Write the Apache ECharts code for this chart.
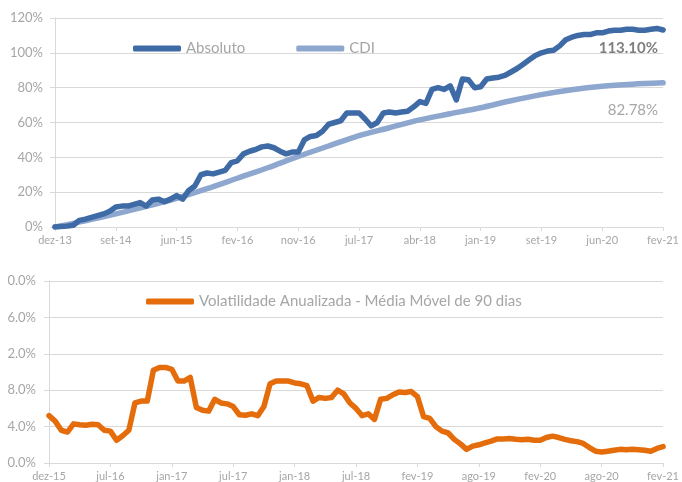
<!DOCTYPE html>
<html><head><meta charset="utf-8">
<script src="https://cdn.jsdelivr.net/npm/echarts@6/dist/echarts.min.js"></script>
<style>html,body{margin:0;padding:0;background:#fff}#c{width:682px;height:482px}</style>
</head><body><div id="c"></div>
<script>
// Top chart tick labels
var topTicks = ['dez-13','set-14','jun-15','fev-16','nov-16','jul-17','abr-18','jan-19','set-19','jun-20','fev-21'];
// Bottom chart tick labels
var botTicks = ['dez-15','jul-16','jan-17','jul-17','jan-18','jul-18','fev-19','ago-19','fev-20','ago-20','fev-21'];
// Bottom y-axis labels as shown (truncated in the original)
var botYLabels = ['0.0%','4.0%','8.0%','2.0%','6.0%','0.0%'];

// Absoluto (%), sampled every 1/10 of a tick interval
var absoluto = [0,0.3,0.5,1,3.8,4.5,5.5,6.5,7.5,9,
  11.5,12,12,13,14,12,15.5,16,14.5,16,
  18,16,21,23.5,30,31,30.5,31.5,32.5,37,
  38,42,43.5,44.5,46,46.5,45.5,43.5,42,43,
  43,50,52,52.5,55,59,60,61,65.5,65.5,
  65.5,62,58,60,65.5,66,65.5,66,66.5,69,
  72,71,79,80,79,81,73,85,84.5,80,
  80.5,85,85.5,86,87,89,91,93.5,96,98.5,
  100,101,101.5,104,107.5,109,110,110.5,110.5,111.5,
  111.5,112.5,113,113,113.5,113.5,113,113,113.5,114,113.1];
// CDI (%), sampled every 1/2 tick interval
var cdi = [0,3.5,7.5,11.8,16.5,22,28,34,40.5,46.5,52.5,57,61.5,65,68.5,72.5,76,78.8,80.8,82,82.78];
// Volatilidade anualizada (%), sampled every 1/10 tick interval
var vol = [5.2,4.6,3.6,3.4,4.3,4.2,4.15,4.25,4.2,3.6,
  3.5,2.5,3.0,3.6,6.6,6.8,6.8,10.2,10.5,10.5,
  10.3,9.0,9.0,9.4,6.1,5.8,5.7,7.0,6.6,6.5,
  6.2,5.3,5.25,5.4,5.2,6.2,8.7,9.0,9.0,9.0,
  8.8,8.7,8.5,6.8,7.2,7.1,7.2,8.0,7.6,6.6,
  6.0,5.2,5.4,4.8,7.0,7.1,7.5,7.8,7.75,7.85,
  7.3,5.1,4.9,4.0,3.5,3.3,2.6,2.1,1.5,1.85,
  2.0,2.2,2.4,2.65,2.65,2.7,2.6,2.55,2.6,2.5,
  2.5,2.8,2.95,2.8,2.6,2.45,2.35,2.15,1.7,1.3,
  1.2,1.3,1.4,1.5,1.45,1.5,1.45,1.4,1.3,1.6,1.8];

function toPairs(arr, step){ return arr.map(function(v,i){ return [i*step, v]; }); }

var gray = '#A6A6A6', grid = '#D9D9D9';
var F = 'Lato, "Open Sans", sans-serif';
var chart = echarts.init(document.getElementById('c'), null, {renderer:'canvas'});
chart.setOption({
  animation:false,
  backgroundColor:'#fff',
  textStyle:{fontFamily:F},
  grid:[
    {left:55, right:14, top:18, height:209, containLabel:false},
    {left:49, right:13, top:281, height:182, containLabel:false}
  ],
  legend:[
    {data:['Absoluto','CDI'], left:128, top:36, itemWidth:48, itemHeight:6, itemGap:51,
     icon:'roundRect', textStyle:{color:gray, fontSize:15, fontFamily:F}},
    {data:['Volatilidade Anualizada - Média Móvel de 90 dias'], left:141, top:289, itemWidth:48, itemHeight:6,
     icon:'roundRect', textStyle:{color:gray, fontSize:15, fontFamily:F}}
  ],
  xAxis:[
    {type:'value', gridIndex:0, min:0, max:10, interval:1,
     axisLine:{show:true, lineStyle:{color:grid}}, axisTick:{show:true, length:4, lineStyle:{color:grid}},
     splitLine:{show:false},
     axisLabel:{color:gray, fontSize:11, margin:8, fontFamily:F, formatter:function(v){return topTicks[Math.round(v)];}}},
    {type:'value', gridIndex:1, min:0, max:10, interval:1,
     axisLine:{show:true, lineStyle:{color:grid}}, axisTick:{show:true, length:4, lineStyle:{color:grid}},
     splitLine:{show:false},
     axisLabel:{color:gray, fontSize:11, margin:8, fontFamily:F, formatter:function(v){return botTicks[Math.round(v)];}}}
  ],
  yAxis:[
    {type:'value', gridIndex:0, min:0, max:120, interval:20,
     axisLine:{show:true, lineStyle:{color:grid}}, axisTick:{show:true, length:5, lineStyle:{color:grid}},
     splitLine:{show:true, lineStyle:{color:grid}},
     axisLabel:{color:gray, fontSize:13, margin:12, fontFamily:F, formatter:'{value}%'}},
    {type:'value', gridIndex:1, min:0, max:20, interval:4,
     axisLine:{show:true, lineStyle:{color:grid}}, axisTick:{show:true, length:5, lineStyle:{color:grid}},
     splitLine:{show:true, lineStyle:{color:grid}},
     axisLabel:{color:gray, fontSize:13, margin:13, fontFamily:F, formatter:function(v){return botYLabels[Math.round(v/4)];}}}
  ],
  series:[
    {name:'CDI', type:'line', xAxisIndex:0, yAxisIndex:0, data:toPairs(cdi,0.5), smooth:0.3, showSymbol:false,
     symbol:'none', color:'#8EA7CF', lineStyle:{width:5.5, color:'#8EA7CF', cap:'round'},
     markPoint:{symbol:'circle', symbolSize:0, data:[{coord:[10, cdi[cdi.length-1]]}],
       label:{show:true, position:'left', distance:0, offset:[-5,27], formatter:'82.78%', color:gray, fontSize:15, fontFamily:F}}},
    {name:'Absoluto', type:'line', xAxisIndex:0, yAxisIndex:0, data:toPairs(absoluto,0.1), showSymbol:false,
     symbol:'none', color:'#3E6AA5', lineStyle:{width:5.5, color:'#3E6AA5', cap:'round', join:'round'},
     markPoint:{symbol:'circle', symbolSize:0, data:[{coord:[10, absoluto[absoluto.length-1]]}],
       label:{show:true, position:'left', distance:0, offset:[-5,18], formatter:'113.10%', color:'#7F7F7F', fontWeight:'bold', fontSize:15, fontFamily:F}}},
    {name:'Volatilidade Anualizada - Média Móvel de 90 dias', type:'line', xAxisIndex:1, yAxisIndex:1,
     data:toPairs(vol,0.1), showSymbol:false, symbol:'none', color:'#E46C0A',
     lineStyle:{width:5.5, color:'#E46C0A', cap:'round', join:'round'}}
  ]
});
</script>
</body></html>
